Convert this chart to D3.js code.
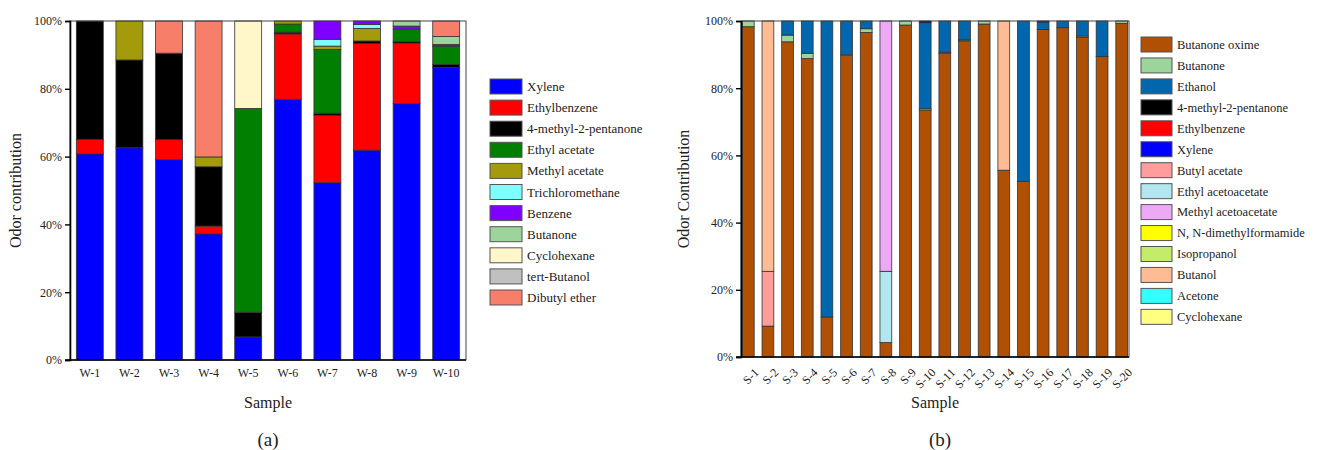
<!DOCTYPE html>
<html>
<head>
<meta charset="utf-8">
<script src="https://cdn.jsdelivr.net/npm/d3@7"></script>
<style>
  body { margin: 0; background: #fff; }
  svg { display: block; font-family: "Liberation Serif", "Times New Roman", serif; }
</style>
</head>
<body>
<svg id="chart" width="1322" height="450"></svg>
<script>
// ---- Panel (a): water samples ----
const samplesA = ["W-1","W-2","W-3","W-4","W-5","W-6","W-7","W-8","W-9","W-10"];
const compoundsA = ["Xylene","Ethylbenzene","4-methyl-2-pentanone","Ethyl acetate","Methyl acetate",
  "Trichloromethane","Benzene","Butanone","Cyclohexane","tert-Butanol","Dibutyl ether"];
const colorsA = ["#0000ff","#ff0000","#000000","#007f00","#a39a0c","#80ffff","#8000ff","#9cd49c","#fff6c9","#c0c0c0","#f77f6a"];
// contribution (%) of each compound per sample, same order as compoundsA
const xyleneA        = [60.8, 62.6, 59.1, 37.2,  6.8, 76.9, 52.3, 61.9, 75.6, 86.3];
const ethylbenzeneA  = [ 4.3,  0,    5.9,  2.3,  0,   19.3, 19.9, 31.5, 17.9,  0  ];
const mibkA          = [34.9, 25.9, 25.5, 17.5,  7.3,  0.5,  0.6,  0.7,  0.4,  0.9];
const ethylAcetateA  = [ 0,    0,    0,    0,   60.1,  2.4, 18.8,  0,    3.7,  5.4];
const methylAcetateA = [ 0,   11.5,  0,    2.9,  0,    0.9,  1.0,  3.7,  0,    0  ];
const trichloroA     = [ 0,    0,    0,    0,    0,    0,    2.0,  1.2,  0,    0  ];
const benzeneA       = [ 0,    0,    0,    0,    0,    0,    5.4,  1.0,  0.9,  0.5];
const butanoneA      = [ 0,    0,    0,    0,    0,    0,    0,    0,    1.5,  2.3];
const cyclohexaneA   = [ 0,    0,    0,    0,   25.8,  0,    0,    0,    0,    0  ];
const tertButanolA   = [ 0,    0,    0,    0,    0,    0,    0,    0,    0,    0  ];
const dibutylEtherA  = [ 0,    0,    9.5, 40.1,  0,    0,    0,    0,    0,    4.6];
const seriesValuesA = [xyleneA, ethylbenzeneA, mibkA, ethylAcetateA, methylAcetateA,
  trichloroA, benzeneA, butanoneA, cyclohexaneA, tertButanolA, dibutylEtherA];

// ---- Panel (b): air samples ----
const samplesB = ["S-1","S-2","S-3","S-4","S-5","S-6","S-7","S-8","S-9","S-10",
  "S-11","S-12","S-13","S-14","S-15","S-16","S-17","S-18","S-19","S-20"];
const compoundsB = ["Butanone oxime","Butanone","Ethanol","4-methyl-2-pentanone","Ethylbenzene","Xylene",
  "Butyl acetate","Ethyl acetoacetate","Methyl acetoacetate","N, N-dimethylformamide","Isopropanol",
  "Butanol","Acetone","Cyclohexane"];
const colorsB = ["#b05004","#9cd49c","#0066ad","#000000","#ff0000","#0000ff","#ff9c9c","#b3e6ee",
  "#eda9f5","#ffff00","#c3ec6a","#ffbc94","#33ffff","#ffff80"];
const butanoneOximeB = [98.3, 9.2, 93.8, 88.8, 11.9, 89.9, 96.6, 4.3, 98.8, 73.5, 90.4, 94.1, 99.1, 55.6, 52.3, 97.5, 98.0, 95.1, 89.4, 99.3];
const butanoneB      = [ 1.7, 0,    2.0,  1.6,  0,    0,    1.1, 0,    1.2,  0.4,  0.3,  0.3,  0.9,  0,    0,    0,    0,    0.4,  0,    0.7];
const ethanolB       = [ 0,   0,    4.2,  9.6, 88.1, 10.1,  2.3, 0,    0,   25.6,  9.3,  5.6,  0,    0,   47.7,  2.2,  2.0,  4.5, 10.6,  0  ];
const mibkB          = [ 0,   0,    0,    0,    0,    0,    0,   0,    0,    0.5,  0,    0,    0,    0,    0,    0.3,  0,    0,    0,    0  ];
const ethylbenzeneB  = Array(20).fill(0);
const xyleneB        = Array(20).fill(0);
const butylAcetateB  = [ 0,  16.3,  0,    0,    0,    0,    0,   0,    0,    0,    0,    0,    0,    0,    0,    0,    0,    0,    0,    0  ];
const ethylAcAcB     = [ 0,   0,    0,    0,    0,    0,    0,  21.2,  0,    0,    0,    0,    0,    0,    0,    0,    0,    0,    0,    0  ];
const methylAcAcB    = [ 0,   0,    0,    0,    0,    0,    0,  74.5,  0,    0,    0,    0,    0,    0,    0,    0,    0,    0,    0,    0  ];
const dmfB           = Array(20).fill(0);
const isopropanolB   = Array(20).fill(0);
const butanolB       = [ 0,  74.5,  0,    0,    0,    0,    0,   0,    0,    0,    0,    0,    0,   44.4,  0,    0,    0,    0,    0,    0  ];
const acetoneB       = Array(20).fill(0);
const cyclohexaneB   = Array(20).fill(0);
const seriesValuesB = [butanoneOximeB, butanoneB, ethanolB, mibkB, ethylbenzeneB, xyleneB, butylAcetateB,
  ethylAcAcB, methylAcAcB, dmfB, isopropanolB, butanolB, acetoneB, cyclohexaneB];

const yTicks = [0, 20, 40, 60, 80, 100];

const svg = d3.select("#chart");

function buildRows(samples, compounds, values) {
  return samples.map((s, i) => {
    const row = { sample: s };
    compounds.forEach((c, j) => { row[c] = values[j][i]; });
    return row;
  });
}

function drawPanel(cfg) {
  const { samples, compounds, colors, values, x0, x1, y0, y1,
          padInner, padOuter, yTitle, panelLabel, rotateTicks, legend } = cfg;
  const g = svg.append("g");
  const x = d3.scaleBand().domain(samples).range([x0, x1]).paddingInner(padInner).paddingOuter(padOuter);
  const y = d3.scaleLinear().domain([0, 100]).range([y1, y0]);
  const color = d3.scaleOrdinal().domain(compounds).range(colors);

  const rows = buildRows(samples, compounds, values);
  const stacked = d3.stack().keys(compounds)(rows);

  g.selectAll("g.layer").data(stacked).join("g")
    .attr("class", "layer")
    .attr("fill", d => color(d.key))
    .selectAll("rect").data(d => d.filter(p => p[1] - p[0] > 0)).join("rect")
      .attr("x", d => x(d.data.sample))
      .attr("width", x.bandwidth())
      .attr("y", d => y(Math.min(100, d[1])))
      .attr("height", d => y(d[0]) - y(Math.min(100, d[1])))
      .attr("stroke", "#333")
      .attr("stroke-width", 0.8);

  // frame
  g.append("rect").attr("x", x0).attr("y", y0).attr("width", x1 - x0).attr("height", y1 - y0)
    .attr("fill", "none").attr("stroke", "#444").attr("stroke-width", 1);

  // y axis
  const yAxis = g.append("g").attr("transform", `translate(${x0},0)`)
    .call(d3.axisLeft(y).tickValues(yTicks).tickFormat(d => d + "%").tickSize(5).tickPadding(3));
  yAxis.select(".domain").attr("stroke", "#000").attr("stroke-width", 1.6);
  yAxis.selectAll(".tick line").attr("stroke", "#000").attr("stroke-width", 1.4);
  yAxis.selectAll("text").attr("font-family", "Liberation Serif").attr("font-size", 12).attr("fill", "#222");

  // x axis
  const xAxis = g.append("g").attr("transform", `translate(0,${y1})`)
    .call(d3.axisBottom(x).tickSize(0).tickPadding(rotateTicks ? 6 : 8));
  xAxis.select(".domain").attr("stroke", "#000").attr("stroke-width", 1.6)
    .attr("d", `M${x0 - 5},0H${x1}`);
  xAxis.selectAll("text").attr("font-family", "Liberation Serif").attr("font-size", 12).attr("fill", "#222");
  if (rotateTicks) {
    xAxis.selectAll("text")
      .attr("text-anchor", "end")
      .attr("dy", "0.35em")
      .attr("transform", "translate(4,9) rotate(-45)");
  }

  // titles
  const cx = (x0 + x1) / 2;
  g.append("text").attr("x", cx).attr("y", 408).attr("text-anchor", "middle")
    .attr("font-size", 16).attr("fill", "#222").text("Sample");
  g.append("text").attr("x", cx + cfg.labelShift).attr("y", 446).attr("text-anchor", "middle")
    .attr("font-size", 19).attr("fill", "#222").text(panelLabel);
  g.append("text")
    .attr("transform", `translate(${cfg.yTitleX},${(y0 + y1) / 2}) rotate(-90)`)
    .attr("text-anchor", "middle").attr("font-size", 16).attr("fill", "#222").text(yTitle);

  // legend
  const lg = g.append("g").attr("transform", `translate(${legend.x},${legend.y})`);
  const item = lg.selectAll("g").data(compounds).join("g")
    .attr("transform", (d, i) => `translate(0,${i * legend.step})`);
  item.append("rect").attr("width", legend.w).attr("height", 15)
    .attr("fill", d => color(d)).attr("stroke", "#555").attr("stroke-width", 1);
  item.append("text").attr("x", legend.w + 5).attr("y", 7.5).attr("dy", "0.35em")
    .attr("font-size", legend.fs).attr("fill", "#222").text(d => d);
}

drawPanel({
  samples: samplesA, compounds: compoundsA, colors: colorsA, values: seriesValuesA,
  x0: 70, x1: 466, y0: 21, y1: 360, padInner: 0.32, padOuter: 0.16,
  yTitle: "Odor contribution", yTitleX: 21, panelLabel: "(a)", labelShift: 0, rotateTicks: false,
  legend: { x: 490, y: 79, step: 21.1, w: 32, fs: 13 }
});

drawPanel({
  samples: samplesB, compounds: compoundsB, colors: colorsB, values: seriesValuesB,
  x0: 741, x1: 1129, y0: 21, y1: 357, padInner: 0.4, padOuter: 0.07,
  yTitle: "Odor Contribution", yTitleX: 689, panelLabel: "(b)", labelShift: 5, rotateTicks: true,
  legend: { x: 1141, y: 37, step: 20.95, w: 31, fs: 12.5 }
});
</script>
</body>
</html>
